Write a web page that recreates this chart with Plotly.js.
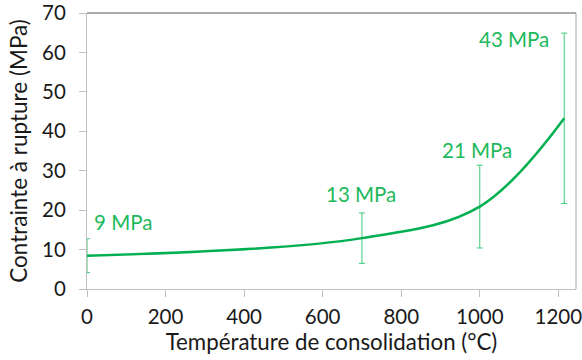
<!DOCTYPE html>
<html>
<head>
<meta charset="utf-8">
<script src="https://cdn.plot.ly/plotly-3.0.1.min.js"></script>
<style>html,body{margin:0;padding:0;background:#fff;}#chart{width:582px;height:360px;}</style>
</head>
<body>
<div id="chart"></div>
<script>
var temperatures = [0, 700, 1000, 1215];
var strength = [8.45, 12.9, 20.9, 43.3];
var errors = [4.3, 6.4, 10.5, 21.6];
var labels = ["9 MPa", "13 MPa", "21 MPa", "43 MPa"];
var xTicks = [0, 200, 400, 600, 800, 1000, 1200];
var yTicks = [0, 10, 20, 30, 40, 50, 60, 70];

var green = "#00B050";
var font = "Lato, 'Open Sans', sans-serif";
var textColor = "#1a1a1a";

var trace = {
  x: temperatures,
  y: strength,
  type: "scatter",
  mode: "lines",
  line: {color: green, width: 2.5, shape: "spline", smoothing: 1},
  error_y: {type: "data", array: errors, visible: true, color: "#3cc97a", thickness: 1, width: 3},
  hoverinfo: "none"
};

var labelPos = [[92, 17.1], [697, 24.1], [992, 35.25], [1088, 63.5]];
var annotations = labels.map(function (t, i) {
  return {x: labelPos[i][0], y: labelPos[i][1], xref: "x", yref: "y", text: t, showarrow: false,
    font: {family: font, size: 20.5, color: "#1db95c"}, xanchor: "center", yanchor: "middle"};
});

var layout = {
  width: 582, height: 360,
  margin: {l: 86.5, r: 6, t: 13, b: 71, pad: 0, autoexpand: false},
  paper_bgcolor: "#fff", plot_bgcolor: "#fff",
  showlegend: false,
  xaxis: {
    range: [0, 1245], tickvals: xTicks, ticktext: xTicks.map(String),
    showgrid: false, zeroline: false, showline: true, linecolor: "#bfbfbf", linewidth: 1,
    ticks: "outside", ticklen: 7, tickcolor: "#bfbfbf", tickwidth: 1,
    ticklabeloverflow: "allow", automargin: false, ticklabelstandoff: 2,
    tickfont: {family: font, size: 20.5, color: textColor},
    title: {text: "Température de consolidation (°C)", font: {family: font, size: 22.3, color: textColor}, standoff: 5}
  },
  yaxis: {
    range: [0, 70], tickvals: yTicks, ticktext: yTicks.map(String),
    showgrid: false, zeroline: false, showline: true, linecolor: "#bfbfbf", linewidth: 1,
    ticks: "outside", ticklen: 7, tickcolor: "#bfbfbf", tickwidth: 1,
    ticklabeloverflow: "allow", automargin: false, ticklabelstandoff: 9,
    tickfont: {family: font, size: 20.5, color: textColor},
    title: {text: "Contrainte à rupture (MPa)", font: {family: font, size: 22.5, color: textColor}, standoff: 8}
  },
  shapes: [
    {type: "line", xref: "paper", yref: "paper", x0: 0, x1: 1, y0: 1, y1: 1, line: {color: "#595959", width: 1}},
    {type: "line", xref: "paper", yref: "paper", x0: 1, x1: 1, y0: 0, y1: 1, line: {color: "#a6a6a6", width: 1}}
  ],
  annotations: annotations
};

Plotly.newPlot("chart", [trace], layout, {displayModeBar: false, staticPlot: true});
</script>
</body>
</html>
